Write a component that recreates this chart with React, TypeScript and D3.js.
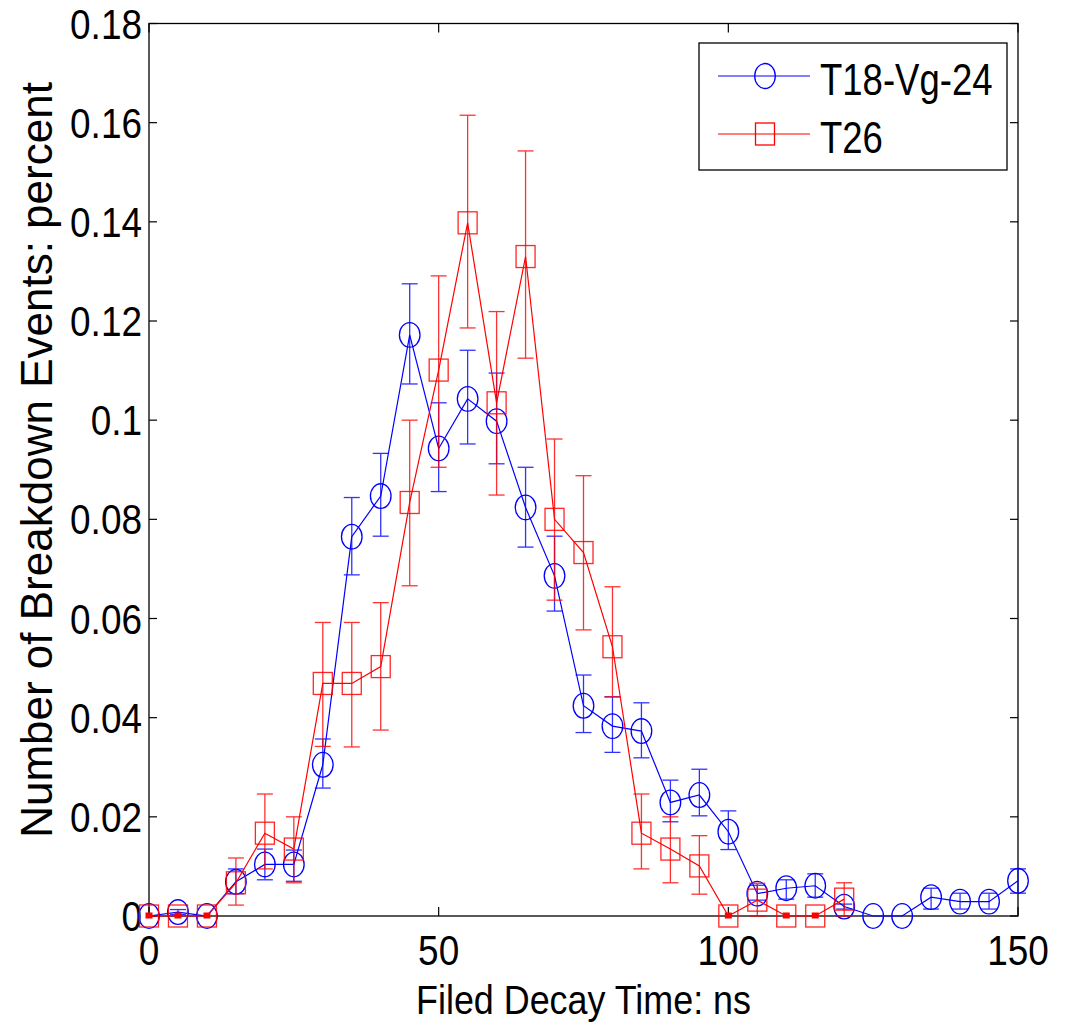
import React from "react";
import * as d3 from "d3";

// ---- Data ----
const blueX = [0,5,10,15,20,25,30,35,40,45,50,55,60,65,70,75,80,85,90,95,100,105,110,115,120,125,130,135,140,145,150];
const blueY = [0,0.0008,0,0.0069,0.0104,0.0104,0.0305,0.0765,0.0847,0.1172,0.0943,0.1043,0.0998,0.0824,0.0686,0.0424,0.0383,0.0373,0.0229,0.0244,0.017,0.0045,0.0056,0.0061,0.0019,0,0,0.0038,0.0029,0.0029,0.0071];
const blueHi = [0,0.0013,0,0.0095,0.0135,0.0133,0.0357,0.0844,0.0933,0.1275,0.1035,0.1141,0.1095,0.0905,0.0766,0.0486,0.0442,0.043,0.0274,0.0296,0.0212,0.0062,0.0073,0.0085,0.0024,0,0,0.0056,0.0046,0.0046,0.0095];
const blueLo = [0,0.0003,0,0.0045,0.0073,0.007,0.0258,0.0688,0.0766,0.1073,0.0856,0.0952,0.0912,0.0744,0.0615,0.037,0.033,0.0319,0.019,0.0202,0.0134,0.0032,0.0034,0.0038,0.0014,0,0,0.0014,0.0014,0.0014,0.0046];

const redX = [0,5,10,15,20,25,30,35,40,45,50,55,60,65,70,75,80,85,90,95,100,105,110,115,120];
const redY = [0,0,0,0.0067,0.0167,0.0135,0.0469,0.0469,0.0503,0.0834,0.1101,0.1398,0.1035,0.133,0.08,0.0733,0.0543,0.0167,0.0135,0.0101,0,0.0032,0,0,0.0034];
const redHi = [0,0,0,0.0117,0.0246,0.02,0.0592,0.0592,0.0632,0.1,0.1291,0.1615,0.1219,0.1543,0.0962,0.0888,0.0664,0.0246,0.02,0.0162,0,0.0066,0,0,0.0067];
const redLo = [0,0,0,0.0022,0.0095,0.0067,0.0342,0.0341,0.0375,0.0666,0.0905,0.1186,0.0849,0.1125,0.0637,0.0577,0.0442,0.0095,0.0067,0.0044,0,0,0,0,0];

const xTicks = [0, 50, 100, 150];
const yTicks = [0, 0.02, 0.04, 0.06, 0.08, 0.1, 0.12, 0.14, 0.16, 0.18];
const seriesNames = ["T18-Vg-24", "T26"];

const W = 1066, H = 1031;
const L = 149, R = 1018, T = 23.5, B = 916;
const FONT = "Liberation Sans, Arial, Helvetica, sans-serif";

const x = d3.scaleLinear().domain([0, 150]).range([L, R]);
const y = d3.scaleLinear().domain([0, 0.18]).range([B, T]);

const BLUE = "#0000ff";
const RED = "#ff0000";

function STxt({ x, y, sx, size, anchor, children }: any) {
  return (
    <text
      transform={`translate(${x},${y}) scale(${sx},1)`}
      fontFamily={FONT}
      fontSize={size}
      textAnchor={anchor}
      fill="#000"
    >
      {children}
    </text>
  );
}

function Series({ xs, ys, hi, lo, color, marker }: any) {
  const line = d3.line<number>().x((_, i) => x(xs[i])).y((d) => y(d));
  const cap = 8;
  return (
    <g>
      {xs.map((xv: number, i: number) => {
        if (hi[i] === lo[i]) return null;
        const cx = x(xv);
        return (
          <g key={"e" + i} stroke={color} strokeWidth={1.3} opacity={0.8}>
            <line x1={cx} x2={cx} y1={y(hi[i])} y2={y(lo[i])} />
            <line x1={cx - cap} x2={cx + cap} y1={y(hi[i])} y2={y(hi[i])} />
            <line x1={cx - cap} x2={cx + cap} y1={y(lo[i])} y2={y(lo[i])} />
          </g>
        );
      })}
      <path d={line(ys) || ""} fill="none" stroke={color} strokeWidth={1.2} />
      {xs.map((xv: number, i: number) => {
        const cx = x(xv), cy = y(ys[i]);
        return marker === "circle" ? (
          <ellipse key={"m" + i} cx={cx} cy={cy} rx={10.3} ry={12.3} fill="none" stroke={color} strokeWidth={1.3} />
        ) : (
          <g key={"m" + i}>
            <rect x={cx - 9.5} y={cy - 11} width={19} height={22} fill="none" stroke={color} strokeWidth={1.3} opacity={0.85} />
            {ys[i] === 0 && hi[i] === 0 ? (
              <rect x={cx - 3.5} y={cy - 3.5} width={7} height={6} fill={color} />
            ) : null}
          </g>
        );
      })}
    </g>
  );
}

export default function App() {
  return (
    <svg width={W} height={H} style={{ position: "absolute", left: 0, top: 0, background: "#fff" }}>
      <rect x={0} y={0} width={W} height={H} fill="#fff" />
      {/* frame */}
      <rect x={L} y={T} width={R - L} height={B - T} fill="none" stroke="#000" strokeWidth={1.3} />
      {/* ticks */}
      {xTicks.map((t) => (
        <g key={"xt" + t} stroke="#000" strokeWidth={1.2}>
          <line x1={x(t)} x2={x(t)} y1={B} y2={B - 9} />
          <line x1={x(t)} x2={x(t)} y1={T} y2={T + 9} />
        </g>
      ))}
      {yTicks.map((t) => (
        <g key={"yt" + t} stroke="#000" strokeWidth={1.2}>
          <line x1={L} x2={L + 8} y1={y(t)} y2={y(t)} />
          <line x1={R} x2={R - 8} y1={y(t)} y2={y(t)} />
        </g>
      ))}
      {xTicks.map((t) => (
        <STxt key={"xl" + t} x={x(t)} y={B + 49} sx={0.88} size={42} anchor="middle">
          {String(t)}
        </STxt>
      ))}
      {yTicks.map((t) => (
        <STxt key={"yl" + t} x={142} y={y(t) + 15} sx={0.88} size={42} anchor="end">
          {String(+t.toFixed(2))}
        </STxt>
      ))}
      <STxt x={(L + R) / 2} y={1014} sx={0.875} size={41} anchor="middle">
        Filed Decay Time: ns
      </STxt>
      <text
        transform={`translate(52,460) rotate(-90)`}
        fontFamily={FONT}
        fontSize={44}
        textAnchor="middle"
        fill="#000"
      >
        Number of Breakdown Events: percent
      </text>

      <Series xs={blueX} ys={blueY} hi={blueHi} lo={blueLo} color={BLUE} marker="circle" />
      <Series xs={redX} ys={redY} hi={redHi} lo={redLo} color={RED} marker="square" />

      {/* legend */}
      <rect x={699} y={43} width={308} height={127} fill="#fff" stroke="#000" strokeWidth={1.3} />
      <line x1={718} x2={810} y1={76} y2={76} stroke={BLUE} strokeWidth={1.2} />
      <ellipse cx={765} cy={76} rx={10.3} ry={12.5} fill="none" stroke={BLUE} strokeWidth={1.3} />
      <line x1={718} x2={810} y1={134} y2={134} stroke={RED} strokeWidth={1.2} />
      <rect x={755.5} y={123} width={19} height={22} fill="none" stroke={RED} strokeWidth={1.3} />
      <STxt x={820} y={95} sx={0.83} size={44} anchor="start">{seriesNames[0]}</STxt>
      <STxt x={820} y={153} sx={0.83} size={44} anchor="start">{seriesNames[1]}</STxt>
    </svg>
  );
}
